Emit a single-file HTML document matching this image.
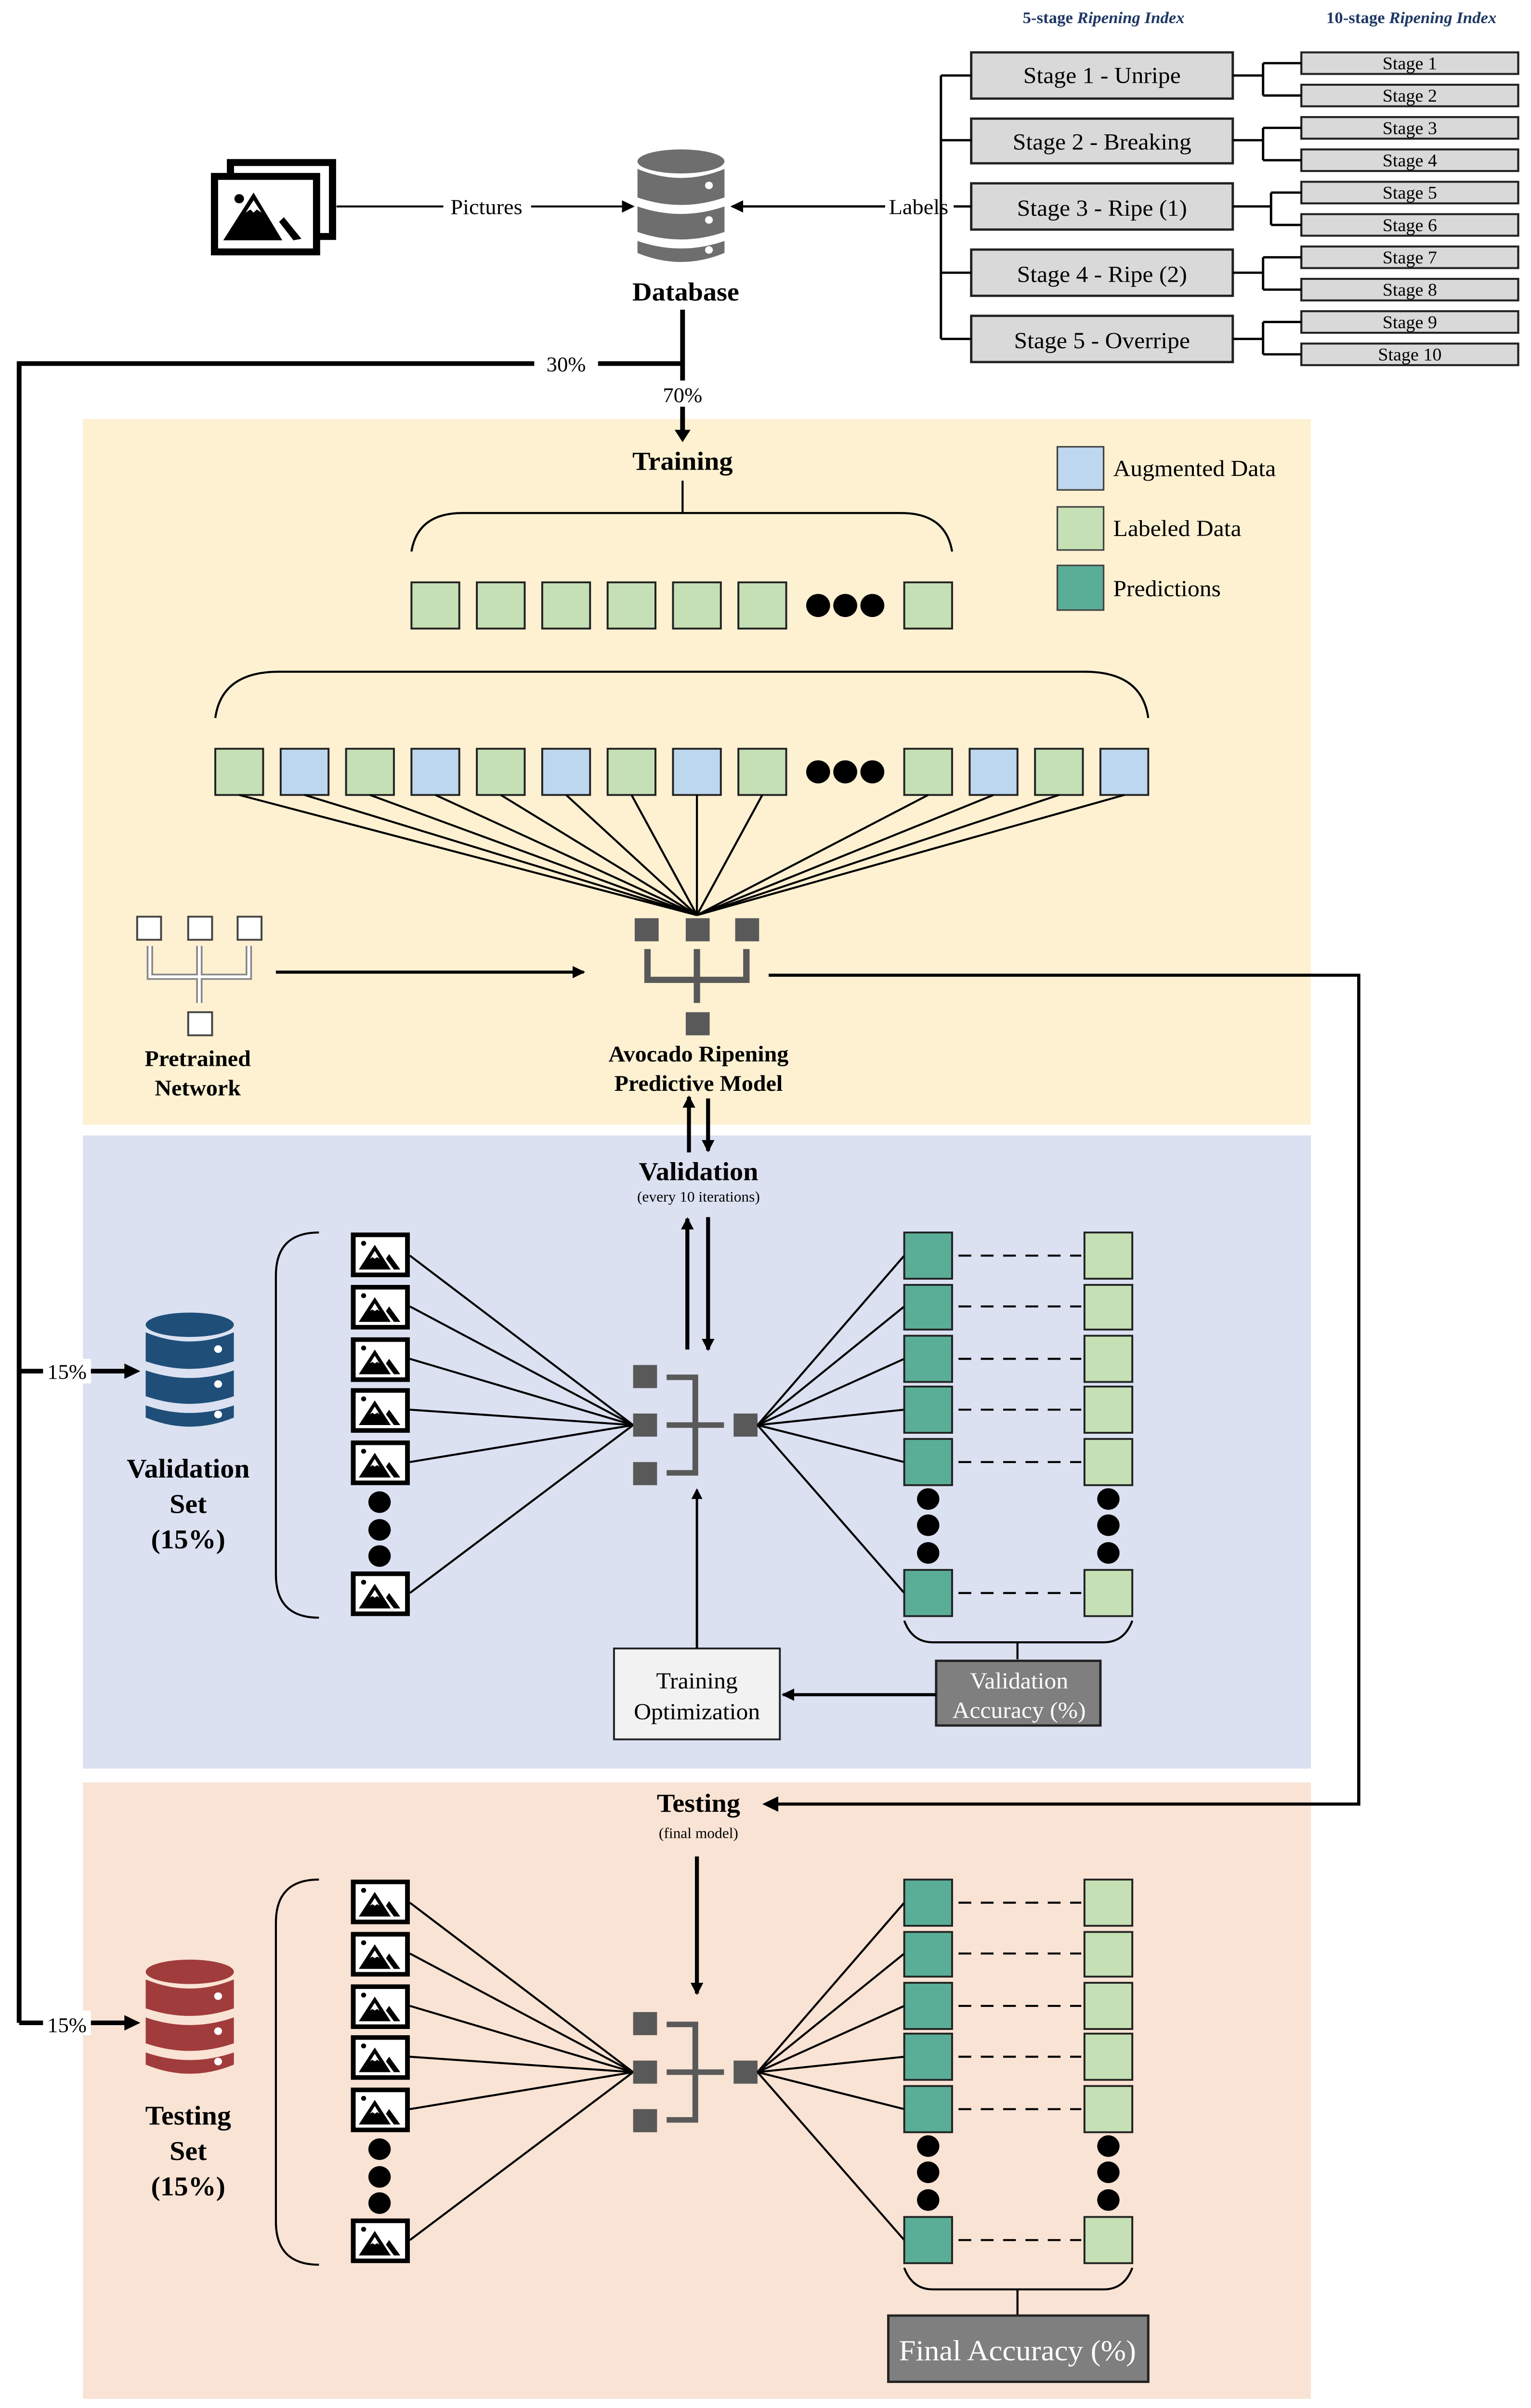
<!DOCTYPE html>
<html><head><meta charset="utf-8"><style>
html,body{margin:0;padding:0;background:#fff;width:100%;height:100%;overflow:hidden;}
svg.main{display:block;width:100vw;height:100vh;}
text{font-family:"Liberation Serif",serif;}
</style></head><body>
<svg class="main" viewBox="0 0 960 1563" preserveAspectRatio="none" xmlns="http://www.w3.org/2000/svg">
<defs>
<marker id="ah" markerWidth="8" markerHeight="8" refX="7" refY="4" orient="auto" markerUnits="userSpaceOnUse"><path d="M0,0 L8,4 L0,8 z" fill="#000"/></marker>
<marker id="ahs" markerWidth="7" markerHeight="7" refX="6" refY="3.5" orient="auto" markerUnits="userSpaceOnUse"><path d="M0,0 L7,3.5 L0,7 z" fill="#000"/></marker>
<symbol id="img" viewBox="0 0 37 29">
<rect x="1.5" y="1.5" width="34" height="26" fill="#fff" stroke="#000" stroke-width="3"/>
<circle cx="8" cy="7" r="1.6" fill="#000"/>
<path d="M5,24 L15,8 L25,24 z" fill="#000"/>
<path d="M12,17 L15,12 L18,17 L16.5,16 L15,17 L13.5,16z" fill="#fff"/>
<path d="M24,14 L31,24 L27,24 L22,17z" fill="#000"/>
</symbol>
<symbol id="db" viewBox="0 0 58 78">
<ellipse cx="29" cy="9" rx="28" ry="8"/>
<path d="M1,14 Q29,26 57,14 L57,33 Q29,43 1,33z"/>
<path d="M1,39 Q29,49 57,39 L57,56 Q29,66 1,56z"/>
<path d="M1,62 Q29,72 57,62 L57,70 Q29,82 1,70z"/>
<circle cx="47" cy="25" r="2.5" fill="#fff"/>
<circle cx="47" cy="48" r="2.5" fill="#fff"/>
<circle cx="47" cy="68" r="2.5" fill="#fff"/>
</symbol>
</defs>

<rect x="52" y="272" width="770" height="458" fill="#fdf1d2"/>
<rect x="52" y="737" width="770" height="411" fill="#dbe1f1"/>
<rect x="52" y="1157" width="770" height="400" fill="#f9e3d4"/>

<text x="692" y="15" font-size="10.5" font-weight="bold" fill="#1f3864" text-anchor="middle">5-stage <tspan font-style="italic">Ripening Index</tspan></text>
<text x="885" y="15" font-size="10.5" font-weight="bold" fill="#1f3864" text-anchor="middle">10-stage <tspan font-style="italic">Ripening Index</tspan></text>

<g fill="#d9d9d9" stroke="#222" stroke-width="1.5">
<rect x="609" y="34" width="164" height="30"/>
<rect x="609" y="77" width="164" height="29"/>
<rect x="609" y="119" width="164" height="30"/>
<rect x="609" y="162" width="164" height="30"/>
<rect x="609" y="205" width="164" height="30"/>
</g>
<g font-size="15" text-anchor="middle" fill="#000">
<text x="691" y="54">Stage 1 - Unripe</text>
<text x="691" y="97">Stage 2 - Breaking</text>
<text x="691" y="140">Stage 3 - Ripe (1)</text>
<text x="691" y="183">Stage 4 - Ripe (2)</text>
<text x="691" y="226">Stage 5 - Overripe</text>
</g>
<g fill="#d9d9d9" stroke="#222" stroke-width="1.3">
<rect x="816" y="34" width="136" height="14"/><rect x="816" y="55" width="136" height="14"/>
<rect x="816" y="76" width="136" height="14"/><rect x="816" y="97" width="136" height="14"/>
<rect x="816" y="118" width="136" height="14"/><rect x="816" y="139" width="136" height="14"/>
<rect x="816" y="160" width="136" height="14"/><rect x="816" y="181" width="136" height="14"/>
<rect x="816" y="202" width="136" height="14"/><rect x="816" y="223" width="136" height="14"/>
</g>
<g font-size="11.5" text-anchor="middle">
<text x="884" y="45">Stage 1</text><text x="884" y="66">Stage 2</text>
<text x="884" y="87">Stage 3</text><text x="884" y="108">Stage 4</text>
<text x="884" y="129">Stage 5</text><text x="884" y="150">Stage 6</text>
<text x="884" y="171">Stage 7</text><text x="884" y="192">Stage 8</text>
<text x="884" y="213">Stage 9</text><text x="884" y="234">Stage 10</text>
</g>
<g stroke="#000" stroke-width="1.5" fill="none">
<path d="M773,49 H792 M792,41 V62 M792,41 H816 M792,62 H816"/>
<path d="M773,91 H792 M792,83 V104 M792,83 H816 M792,104 H816"/>
<path d="M773,134 H797 M797,125 V146 M797,125 H816 M797,146 H816"/>
<path d="M773,177 H792 M792,167 V188 M792,167 H816 M792,188 H816"/>
<path d="M773,220 H792 M792,209 V230 M792,209 H816 M792,230 H816"/>
<path d="M590,49 V220 M590,49 H609 M590,91 H609 M598,134 H609 M590,177 H609 M590,220 H609"/>
</g>
<text x="576" y="139" font-size="14" text-anchor="middle">Labels</text>
<line x1="555" y1="134" x2="459" y2="134" stroke="#000" stroke-width="1.5" marker-end="url(#ah)"/>

<rect x="144.5" y="105.5" width="64" height="48" fill="#fff" stroke="#000" stroke-width="4.5"/>
<rect x="134.5" y="114.5" width="64" height="49" fill="#fff" stroke="#000" stroke-width="4.5"/>
<circle cx="150" cy="129" r="3" fill="#000"/>
<path d="M140,156 L159,125 L177,156z" fill="#000"/>
<path d="M154,138 L159,130 L164,138 L161,136 L159,138 L157,136z" fill="#fff"/>
<path d="M175,144 L178,141 L189,155 L184,156z" fill="#000"/>
<line x1="211" y1="134" x2="278" y2="134" stroke="#000" stroke-width="1.3"/>
<text x="305" y="139" font-size="14" text-anchor="middle">Pictures</text>
<line x1="333" y1="134" x2="397" y2="134" stroke="#000" stroke-width="1.3" marker-end="url(#ah)"/>

<svg x="398" y="96" width="58" height="76" fill="#6e6e6e"><use href="#db"/></svg>
<text x="430" y="195" font-size="17" font-weight="bold" text-anchor="middle">Database</text>

<g stroke="#000" stroke-width="3" fill="none">
<path d="M428,201 V247"/>
<path d="M428,236 H375 M335,236 H12 V1313"/>
<path d="M12,890 H80"/>
<path d="M12,1313 H80"/>
</g>
<path d="M88,890 L78,885 L78,895z"/><path d="M88,1313 L78,1308 L78,1318z"/>
<rect x="27" y="882" width="30" height="16" fill="#fff"/>
<rect x="27" y="1305" width="30" height="16" fill="#fff"/>
<text x="42" y="895" font-size="13.5" text-anchor="middle">15%</text>
<text x="42" y="1319" font-size="13.5" text-anchor="middle">15%</text>
<text x="355" y="241" font-size="13.5" text-anchor="middle">30%</text>
<text x="428" y="261" font-size="13.5" text-anchor="middle">70%</text>
<line x1="428" y1="264" x2="428" y2="280" stroke="#000" stroke-width="3"/>
<path d="M428,287 L423,279 L433,279z"/>

<text x="428" y="305" font-size="17" font-weight="bold" text-anchor="middle">Training</text>
<g stroke="#000" stroke-width="1.3" fill="none">
<path d="M428,312 V333"/>
<path d="M258,358 Q262,333 290,333 H565 Q593,333 597,358"/>
<path d="M135,466 Q139,436 175,436 H680 Q716,436 720,466"/>
</g>
<g stroke="#222" stroke-width="1.2">
<g fill="#c5e0b4">
<rect x="258" y="378" width="30" height="30"/><rect x="299" y="378" width="30" height="30"/>
<rect x="340" y="378" width="30" height="30"/><rect x="381" y="378" width="30" height="30"/>
<rect x="422" y="378" width="30" height="30"/><rect x="463" y="378" width="30" height="30"/>
<rect x="567" y="378" width="30" height="30"/>
<rect x="135" y="486" width="30" height="30"/><rect x="217" y="486" width="30" height="30"/>
<rect x="299" y="486" width="30" height="30"/><rect x="381" y="486" width="30" height="30"/>
<rect x="463" y="486" width="30" height="30"/><rect x="567" y="486" width="30" height="30"/>
<rect x="649" y="486" width="30" height="30"/>
</g>
<g fill="#bdd7ee">
<rect x="176" y="486" width="30" height="30"/><rect x="258" y="486" width="30" height="30"/>
<rect x="340" y="486" width="30" height="30"/><rect x="422" y="486" width="30" height="30"/>
<rect x="608" y="486" width="30" height="30"/><rect x="690" y="486" width="30" height="30"/>
</g>
</g>
<g fill="#000">
<circle cx="513" cy="393" r="7.5"/><circle cx="530" cy="393" r="7.5"/><circle cx="547" cy="393" r="7.5"/>
<circle cx="513" cy="501" r="7.5"/><circle cx="530" cy="501" r="7.5"/><circle cx="547" cy="501" r="7.5"/>
</g>
<g stroke="#000" stroke-width="1.3">
<line x1="150" y1="516" x2="437" y2="594"/><line x1="191" y1="516" x2="437" y2="594"/>
<line x1="232" y1="516" x2="437" y2="594"/><line x1="273" y1="516" x2="437" y2="594"/>
<line x1="314" y1="516" x2="437" y2="594"/><line x1="355" y1="516" x2="437" y2="594"/>
<line x1="396" y1="516" x2="437" y2="594"/><line x1="437" y1="516" x2="437" y2="594"/>
<line x1="478" y1="516" x2="437" y2="594"/><line x1="582" y1="516" x2="437" y2="594"/>
<line x1="623" y1="516" x2="437" y2="594"/><line x1="664" y1="516" x2="437" y2="594"/>
<line x1="705" y1="516" x2="437" y2="594"/>
</g>

<rect x="663" y="290" width="29" height="28" fill="#bdd7ee" stroke="#444"/>
<rect x="663" y="329" width="29" height="28" fill="#c5e0b4" stroke="#444"/>
<rect x="663" y="367" width="29" height="29" fill="#5aae97" stroke="#444"/>
<g font-size="15"><text x="698" y="309">Augmented Data</text><text x="698" y="348">Labeled Data</text><text x="698" y="387">Predictions</text></g>

<g fill="#595959">
<rect x="398" y="596" width="15" height="15"/><rect x="430" y="596" width="15" height="15"/><rect x="461" y="596" width="15" height="15"/>
<rect x="430" y="657" width="15" height="15"/>
</g>
<path d="M406,616 V636 H468 V616 M437,616 V651" stroke="#595959" stroke-width="4" fill="none"/>
<text x="438" y="689" font-size="14.5" font-weight="bold" text-anchor="middle">Avocado Ripening</text>
<text x="438" y="708" font-size="14.5" font-weight="bold" text-anchor="middle">Predictive Model</text>

<g fill="#fff" stroke="#444" stroke-width="1.2">
<rect x="86" y="595" width="15" height="15"/><rect x="118" y="595" width="15" height="15"/><rect x="149" y="595" width="15" height="15"/>
<rect x="118" y="657" width="15" height="15"/>
</g>
<path d="M94,614 V634 H156 V614 M125,614 V651" stroke="#888" stroke-width="4" fill="none"/>
<path d="M94,614 V634 H156 V614 M125,614 V651" stroke="#fff" stroke-width="1.8" fill="none"/>
<text x="124" y="692" font-size="14.5" font-weight="bold" text-anchor="middle">Pretrained</text>
<text x="124" y="711" font-size="14.5" font-weight="bold" text-anchor="middle">Network</text>
<line x1="173" y1="631" x2="366" y2="631" stroke="#000" stroke-width="2" marker-end="url(#ah)"/>

<path d="M482,633 H852 V1171 H486" stroke="#000" stroke-width="2" fill="none"/>
<path d="M478,1171 L488,1166 L488,1176z"/>

<line x1="432" y1="748" x2="432" y2="712" stroke="#000" stroke-width="2.5" marker-end="url(#ah)"/>
<line x1="444" y1="713" x2="444" y2="747" stroke="#000" stroke-width="2.5" marker-end="url(#ah)"/>
<text x="438" y="766" font-size="17" font-weight="bold" text-anchor="middle">Validation</text>
<text x="438" y="780" font-size="9.5" text-anchor="middle">(every 10 iterations)</text>
<line x1="431" y1="876" x2="431" y2="791" stroke="#000" stroke-width="2.5" marker-end="url(#ah)"/>
<line x1="444" y1="790" x2="444" y2="876" stroke="#000" stroke-width="2.5" marker-end="url(#ah)"/>

<svg x="90" y="851" width="58" height="77" fill="#1f4e79"><use href="#db"/></svg>
<text x="118" y="959" font-size="17.5" font-weight="bold" text-anchor="middle">Validation</text>
<text x="118" y="982" font-size="17.5" font-weight="bold" text-anchor="middle">Set</text>
<text x="118" y="1005" font-size="17.5" font-weight="bold" text-anchor="middle">(15%)</text>

<g id="sec">
<path d="M200,800 Q173,800 173,828 V1022 Q173,1050 200,1050" stroke="#000" stroke-width="1.3" fill="none"/>
<use href="#img" x="220" y="800" width="37" height="29"/>
<use href="#img" x="220" y="834" width="37" height="29"/>
<use href="#img" x="220" y="868" width="37" height="29"/>
<use href="#img" x="220" y="901" width="37" height="29"/>
<use href="#img" x="220" y="935" width="37" height="29"/>
<use href="#img" x="220" y="1020" width="37" height="29"/>
<g fill="#000"><circle cx="238" cy="975" r="7"/><circle cx="238" cy="993" r="7"/><circle cx="238" cy="1010" r="7"/></g>
<g stroke="#000" stroke-width="1.3">
<line x1="257" y1="815" x2="397" y2="925"/><line x1="257" y1="848" x2="397" y2="925"/>
<line x1="257" y1="882" x2="397" y2="925"/><line x1="257" y1="915" x2="397" y2="925"/>
<line x1="257" y1="949" x2="397" y2="925"/><line x1="257" y1="1034" x2="397" y2="925"/>
</g>
<g fill="#595959">
<rect x="397" y="886" width="15" height="15"/><rect x="397" y="917.5" width="15" height="15"/><rect x="397" y="949" width="15" height="15"/>
<rect x="460" y="917.5" width="15" height="15"/>
</g>
<path d="M418,894 H436 V956 H418 M418,925 H454" stroke="#595959" stroke-width="3.6" fill="none"/>
<g stroke="#000" stroke-width="1.3">
<line x1="475" y1="925" x2="567" y2="815"/><line x1="475" y1="925" x2="567" y2="848"/>
<line x1="475" y1="925" x2="567" y2="882"/><line x1="475" y1="925" x2="567" y2="915"/>
<line x1="475" y1="925" x2="567" y2="949"/><line x1="475" y1="925" x2="567" y2="1034"/>
</g>
<g stroke="#222" stroke-width="1.2">
<g fill="#5aae97">
<rect x="567" y="800" width="30" height="30"/><rect x="567" y="834" width="30" height="29"/>
<rect x="567" y="867" width="30" height="30"/><rect x="567" y="900" width="30" height="30"/>
<rect x="567" y="934" width="30" height="30"/><rect x="567" y="1019" width="30" height="30"/>
</g>
<g fill="#c5e0b4">
<rect x="680" y="800" width="30" height="30"/><rect x="680" y="834" width="30" height="29"/>
<rect x="680" y="867" width="30" height="30"/><rect x="680" y="900" width="30" height="30"/>
<rect x="680" y="934" width="30" height="30"/><rect x="680" y="1019" width="30" height="30"/>
</g>
</g>
<g stroke="#000" stroke-width="1.3" stroke-dasharray="8,6">
<line x1="601" y1="815" x2="678" y2="815"/><line x1="601" y1="848" x2="678" y2="848"/>
<line x1="601" y1="882" x2="678" y2="882"/><line x1="601" y1="915" x2="678" y2="915"/>
<line x1="601" y1="949" x2="678" y2="949"/><line x1="601" y1="1034" x2="678" y2="1034"/>
</g>
<g fill="#000">
<circle cx="582" cy="973" r="7"/><circle cx="582" cy="990" r="7"/><circle cx="582" cy="1008" r="7"/>
<circle cx="695" cy="973" r="7"/><circle cx="695" cy="990" r="7"/><circle cx="695" cy="1008" r="7"/>
</g>
<path d="M567,1052 Q572,1066 585,1066 H692 Q705,1066 710,1052" stroke="#000" stroke-width="1.3" fill="none"/>
</g>
<line x1="638" y1="1066" x2="638" y2="1077" stroke="#000" stroke-width="1.3"/>
<rect x="587" y="1078" width="103" height="42" fill="#7f7f7f" stroke="#222" stroke-width="1.5"/>
<text x="639" y="1096" font-size="15" fill="#fff" text-anchor="middle">Validation</text>
<text x="639" y="1115" font-size="15" fill="#fff" text-anchor="middle">Accuracy (%)</text>
<line x1="587" y1="1100" x2="491" y2="1100" stroke="#000" stroke-width="2" marker-end="url(#ah)"/>
<rect x="385" y="1070" width="104" height="59" fill="#f2f2f2" stroke="#222" stroke-width="1.2"/>
<text x="437" y="1096" font-size="15" text-anchor="middle">Training</text>
<text x="437" y="1116" font-size="15" text-anchor="middle">Optimization</text>
<line x1="437" y1="1070" x2="437" y2="967" stroke="#000" stroke-width="1.5" marker-end="url(#ahs)"/>

<text x="438" y="1176" font-size="17" font-weight="bold" text-anchor="middle">Testing</text>
<text x="438" y="1193" font-size="9.5" text-anchor="middle">(final model)</text>
<line x1="437" y1="1205" x2="437" y2="1294" stroke="#000" stroke-width="2.5" marker-end="url(#ah)"/>
<svg x="90" y="1271" width="58" height="77" fill="#a13c3c"><use href="#db"/></svg>
<text x="118" y="1379" font-size="17.5" font-weight="bold" text-anchor="middle">Testing</text>
<text x="118" y="1402" font-size="17.5" font-weight="bold" text-anchor="middle">Set</text>
<text x="118" y="1425" font-size="17.5" font-weight="bold" text-anchor="middle">(15%)</text>
<use href="#sec" transform="translate(0,420)"/>
<line x1="638" y1="1486" x2="638" y2="1503" stroke="#000" stroke-width="1.3"/>
<rect x="557" y="1503" width="163" height="43" fill="#7f7f7f" stroke="#222" stroke-width="1.5"/>
<text x="638" y="1532" font-size="19" fill="#fff" text-anchor="middle">Final Accuracy (%)</text>
</svg>
</body></html>
